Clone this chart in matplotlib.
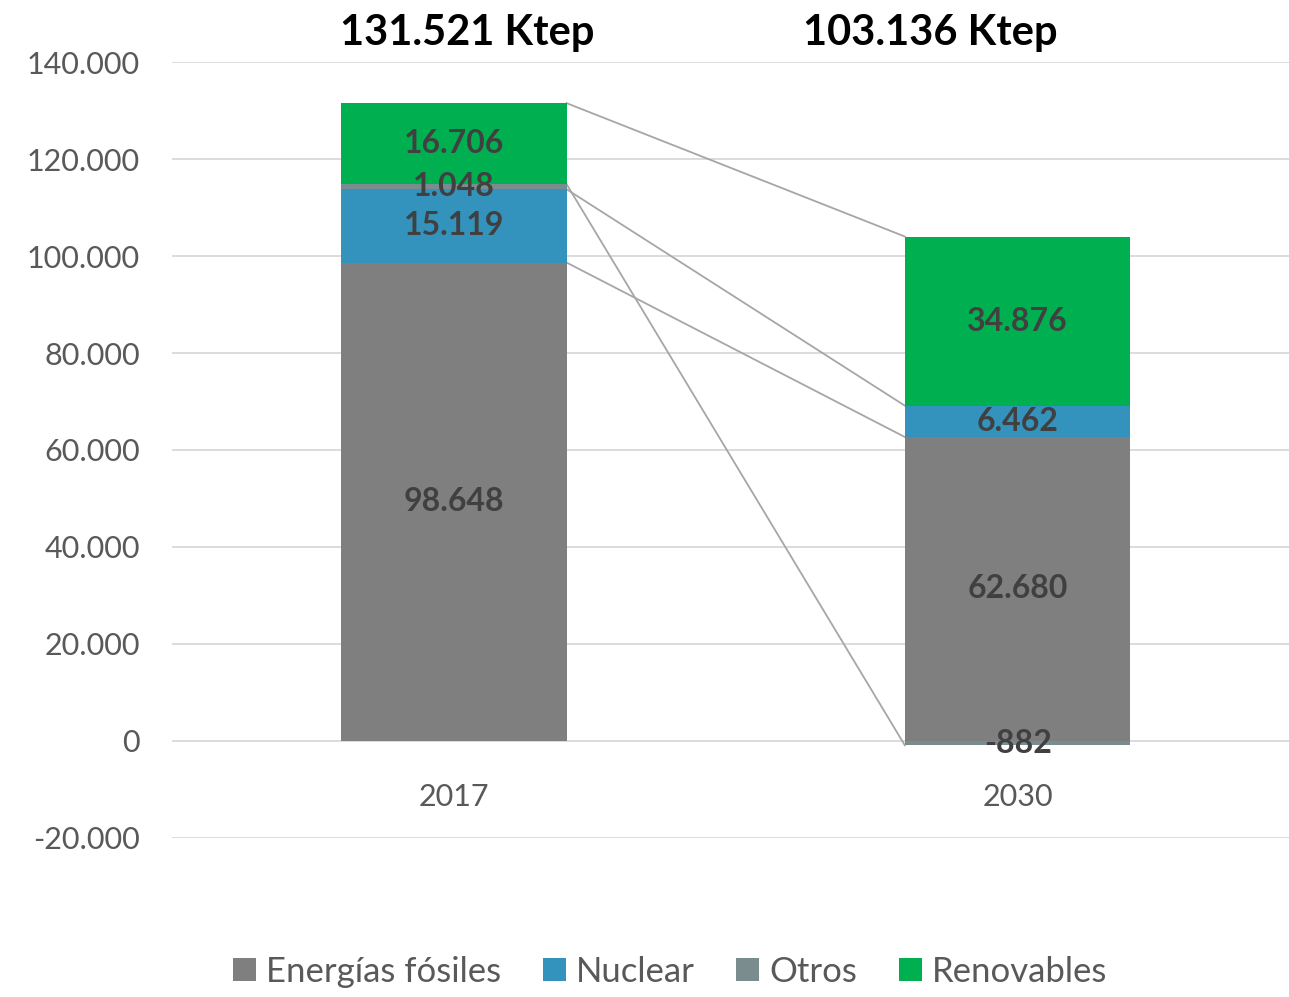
import numpy as np
import matplotlib.pyplot as plt
from matplotlib.ticker import FuncFormatter

plt.rcParams['font.family'] = ['Lato', 'DejaVu Sans']

# data (ktep)
years = ['2017', '2030']
series = ['Energías fósiles', 'Nuclear', 'Otros', 'Renovables']
fosiles = [98648, 62680]
nuclear = [15119, 6462]
otros = [1048, -882]
renovables = [16706, 34876]
totals = ['131.521 Ktep', '103.136 Ktep']

colors = ['#7F7F7F', '#3393BD', '#7A8C8E', '#00B050']
values = [fosiles, nuclear, otros, renovables]


def fmt(v, pos=None):
    return '{:,.0f}'.format(v).replace(',', '.')


fig = plt.figure(figsize=(12.89, 9.97), dpi=100)
ax = fig.add_axes([0.1334, 0.1595, 0.8747, 0.7783])

x = np.arange(len(years))
w = 0.4
pos_base = np.zeros(len(years))
neg_base = np.zeros(len(years))
tops = []
for name, vals, c in zip(series, values, colors):
    vals = np.array(vals, dtype=float)
    bottom = np.where(vals >= 0, pos_base, neg_base)
    ax.bar(x, vals, w, bottom=bottom, color=c, label=name, zorder=3)
    for xi, b, v in zip(x, bottom, vals):
        ax.text(xi, b + v / 2, fmt(v), ha='center', va='center',
                fontsize=23, fontweight='bold', color='#404040', zorder=5)
    end = bottom + vals
    tops.append(end)
    pos_base = np.where(vals >= 0, end, pos_base)
    neg_base = np.where(vals < 0, end, neg_base)

# series lines between the bars
for end in tops:
    ax.plot([x[0] + w / 2, x[1] - w / 2], [end[0], end[1]],
            color='#A6A6A6', lw=1.3, zorder=2)

# total labels (text boxes sit a bit off the bar centres)
for xt, t in zip([0.023, 0.845], totals):
    ax.text(xt, 146000, t, ha='center', va='center', fontsize=30,
            fontweight='bold', color='black', clip_on=False)

ax.set_xlim(-0.5, 1.5)
ax.set_ylim(-20000, 140000)
ax.set_yticks(np.arange(-20000, 140001, 20000))
ax.yaxis.set_major_formatter(FuncFormatter(fmt))
ax.set_xticks(x)
ax.set_xticklabels(years)
ax.spines['bottom'].set_position(('data', 0))
ax.tick_params(axis='both', length=0, labelsize=22, labelcolor='#595959')
ax.tick_params(axis='y', pad=23)
ax.tick_params(axis='x', pad=30)
ax.grid(axis='y', color='#D9D9D9', lw=1.3, zorder=0)
for s in ax.spines.values():
    s.set_visible(False)

leg = fig.legend(loc='lower center', bbox_to_anchor=(0.52, -0.022), ncol=4,
                 frameon=False, fontsize=25, handlelength=0.65, handleheight=0.65,
                 handletextpad=0.3, columnspacing=1.2)
for t in leg.get_texts():
    t.set_color('#595959')

fig.savefig('out.png', dpi=100)
